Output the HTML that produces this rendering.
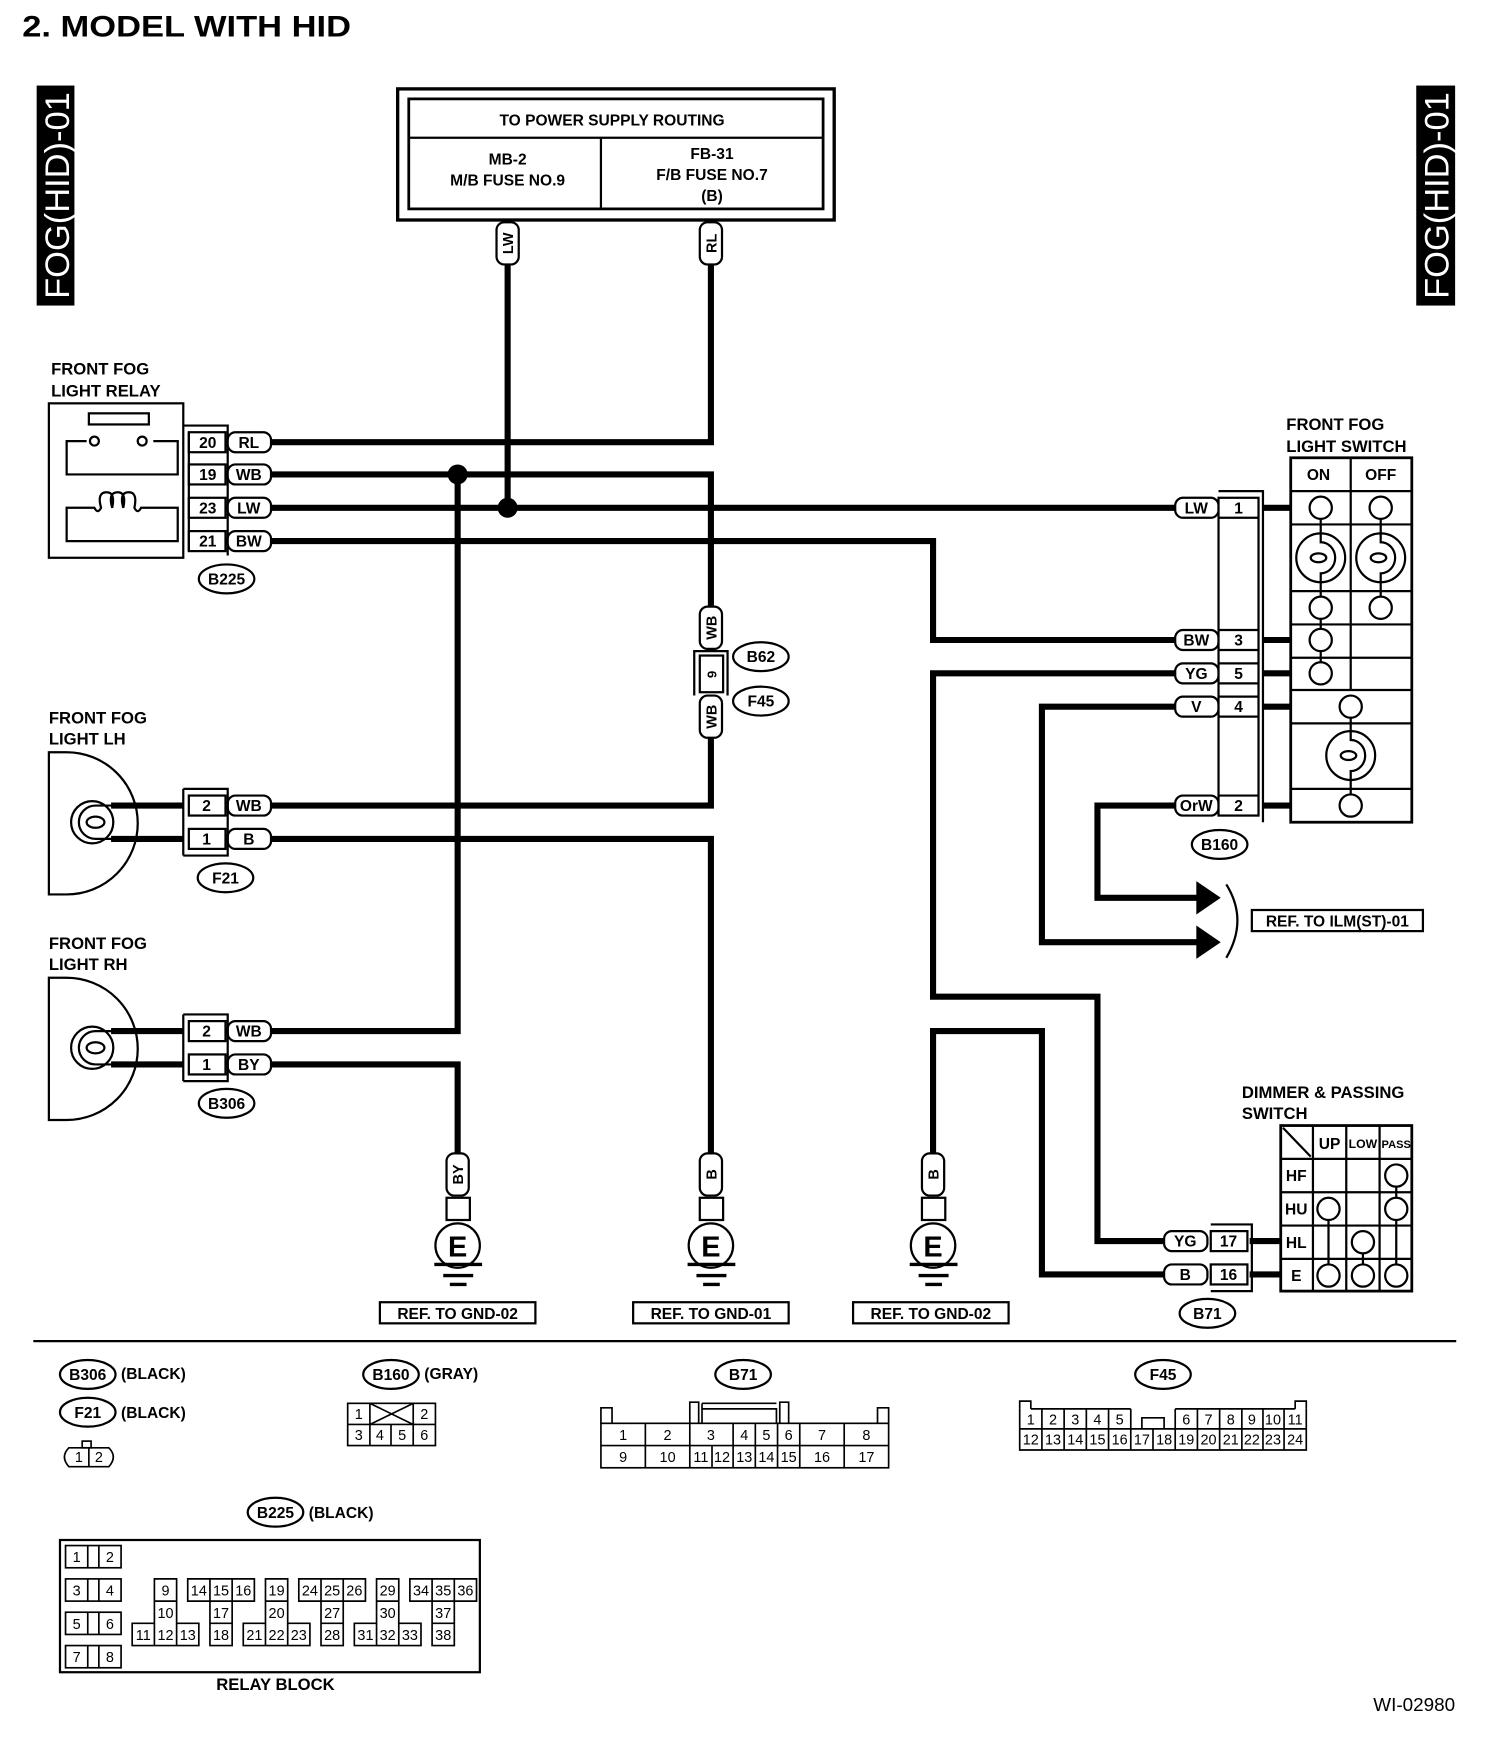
<!DOCTYPE html>
<html><head><meta charset="utf-8"><style>
html,body{margin:0;padding:0;background:#fff;}
svg{display:block;}
text{font-family:"Liberation Sans",Arial,sans-serif;font-weight:bold;fill:#000;}
.n{font-weight:normal;}
</style></head><body>
<svg width="1504" height="1740" viewBox="0 0 1354 1566" preserveAspectRatio="none" xmlns="http://www.w3.org/2000/svg">
<rect width="1354" height="1566" fill="#fff"/>
<text x="20" y="33" font-size="27" textLength="296" lengthAdjust="spacingAndGlyphs">2.  MODEL WITH HID</text>

<!-- side labels -->
<rect x="33" y="77" width="34" height="198" fill="#000"/>
<text transform="translate(62,176) rotate(-90)" font-size="31" text-anchor="middle" textLength="186" lengthAdjust="spacingAndGlyphs" style="fill:#fff;font-weight:normal">FOG(HID)-01</text>
<rect x="1275" y="77" width="35" height="198" fill="#000"/>
<text transform="translate(1304,176) rotate(-90)" font-size="31" text-anchor="middle" textLength="186" lengthAdjust="spacingAndGlyphs" style="fill:#fff;font-weight:normal">FOG(HID)-01</text>

<g fill="none" stroke="#000">
<rect x="358" y="80" width="393" height="118" stroke-width="3"/>
<rect x="368" y="89" width="373" height="99" stroke-width="2.5"/>
<line x1="368" y1="124" x2="741" y2="124" stroke-width="2"/>
<line x1="541" y1="124" x2="541" y2="188" stroke-width="2"/>
</g>
<text x="551" y="113" font-size="14" text-anchor="middle">TO POWER SUPPLY ROUTING</text>
<text x="457" y="148" font-size="14" text-anchor="middle">MB-2</text>
<text x="457" y="167" font-size="14" text-anchor="middle">M/B FUSE NO.9</text>
<text x="641" y="143" font-size="14" text-anchor="middle">FB-31</text>
<text x="641" y="162" font-size="14" text-anchor="middle">F/B FUSE NO.7</text>
<text x="641" y="181" font-size="14" text-anchor="middle">(B)</text>

<!-- WIRES -->
<g fill="none" stroke="#000" stroke-width="5.5">
<polyline points="457,238 457,457"/>
<polyline points="640,238 640,398 243,398"/>
<polyline points="243,427 640,427 640,548"/>
<polyline points="640,662 640,725 243,725"/>
<polyline points="412,427 412,928 243,928"/>
<polyline points="243,457 1060,457"/>
<polyline points="243,487 840,487 840,576 1060,576"/>
<polyline points="1060,606 840,606 840,897 988,897 988,1117 1048,1117"/>
<polyline points="1060,636 938,636 938,848 1080,848"/>
<polyline points="1060,725 988,725 988,808 1080,808"/>
<polyline points="243,755 640,755 640,1040"/>
<polyline points="243,958 412,958 412,1040"/>
<polyline points="840,1040 840,928 938,928 938,1147 1048,1147"/>
<line x1="100" y1="725" x2="165" y2="725"/><line x1="100" y1="755" x2="165" y2="755"/>
<line x1="100" y1="928" x2="165" y2="928"/><line x1="100" y1="958" x2="165" y2="958"/>
<line x1="1137" y1="457" x2="1162" y2="457"/><line x1="1137" y1="576" x2="1162" y2="576"/>
<line x1="1137" y1="606" x2="1162" y2="606"/><line x1="1137" y1="636" x2="1162" y2="636"/>
<line x1="1137" y1="725" x2="1162" y2="725"/>
<line x1="1125" y1="1117" x2="1153" y2="1117"/><line x1="1125" y1="1147" x2="1153" y2="1147"/>
</g>
<circle cx="412" cy="427" r="9" fill="#000"/>
<circle cx="457" cy="457" r="9" fill="#000"/>
<polygon points="1077,793 1099,808 1077,823" fill="#000"/>
<polygon points="1077,833 1099,848 1077,863" fill="#000"/>
<path d="M1104,796 Q1124,828 1104,862" fill="none" stroke="#000" stroke-width="2"/>
<rect x="1127" y="819" width="154" height="19" fill="none" stroke="#000" stroke-width="2"/>
<text x="1204" y="834" font-size="14" text-anchor="middle">REF. TO ILM(ST)-01</text>

<!-- B62/F45 inline connector -->
<g fill="none" stroke="#000" stroke-width="2">
<rect x="630" y="590" width="21" height="33" fill="#fff"/>
<polyline points="625,626 625,586 655,586 655,626"/>
</g>
<g fill="#fff" stroke="#000" stroke-width="2">
<rect x="447" y="200" width="20" height="38" rx="7"/>
<rect x="630" y="200" width="20" height="38" rx="7"/>
<rect x="630" y="546" width="20" height="38" rx="7"/>
<rect x="630" y="626" width="20" height="38" rx="7"/>
<rect x="402" y="1038" width="20" height="38" rx="7"/>
<rect x="630" y="1038" width="20" height="38" rx="7"/>
<rect x="830" y="1038" width="20" height="38" rx="7"/>
</g>
<g font-size="13" text-anchor="middle">
<text transform="translate(462,219) rotate(-90)">LW</text>
<text transform="translate(645,219) rotate(-90)">RL</text>
<text transform="translate(645,565) rotate(-90)">WB</text>
<text transform="translate(645,645) rotate(-90)">WB</text>
<text transform="translate(417,1057) rotate(-90)">BY</text>
<text transform="translate(645,1057) rotate(-90)">B</text>
<text transform="translate(845,1057) rotate(-90)">B</text>
<text transform="translate(645,607) rotate(-90)" font-size="12">9</text>
</g>

<!-- grounds -->
<g fill="none" stroke="#000" stroke-width="2">
<g id="g1">
<rect x="402" y="1078" width="21" height="20" fill="#fff"/>
<circle cx="412" cy="1121" r="20" fill="#fff"/>
<line x1="391" y1="1138" x2="434" y2="1138" stroke-width="3"/>
<line x1="399" y1="1148" x2="426" y2="1148" stroke-width="3"/>
<line x1="405" y1="1156" x2="420" y2="1156" stroke-width="3"/>
</g>
<use href="#g1" x="228"/>
<use href="#g1" x="428"/>
<rect x="342" y="1172" width="140" height="19"/>
<rect x="570" y="1172" width="140" height="19"/>
<rect x="768" y="1172" width="140" height="19"/>
</g>
<g font-size="26" text-anchor="middle"><text x="412" y="1131">E</text><text x="640" y="1131">E</text><text x="840" y="1131">E</text></g>
<g font-size="14" text-anchor="middle">
<text x="412" y="1187">REF. TO GND-02</text>
<text x="640" y="1187">REF. TO GND-01</text>
<text x="838" y="1187">REF. TO GND-02</text>
</g>

<!-- RELAY -->
<text x="46" y="337" font-size="15">FRONT FOG</text>
<text x="46" y="357" font-size="15">LIGHT RELAY</text>
<g fill="none" stroke="#000" stroke-width="2">
<rect x="44" y="363" width="121" height="139"/>
<rect x="80" y="372" width="54" height="10"/>
<polyline points="78,397 60,397 60,427 160,427 160,397 138,397"/>
<circle cx="85" cy="397" r="4"/><circle cx="128" cy="397" r="4"/>
<path d="M60,457 L85,457 q3,6 6,0 q-4,-14 5,-14 q8,0 5,14 q-4,-14 5,-14 q8,0 5,14 q-4,-14 5,-14 q8,0 5,14 q3,6 6,0 L160,457 L160,487 L60,487 Z"/>
<polyline points="165,383 205,383 205,500"/>
<g fill="#fff">
<rect x="170" y="389" width="33" height="18"/>
<rect x="170" y="418" width="33" height="18"/>
<rect x="170" y="448" width="33" height="18"/>
<rect x="170" y="478" width="33" height="18"/>
</g>
<line x1="170" y1="389" x2="170" y2="496"/>
</g>
<g font-size="14" text-anchor="middle">
<text x="187" y="403">20</text><text x="187" y="432">19</text><text x="187" y="462">23</text><text x="187" y="492">21</text>
</g>

<g fill="#fff" stroke="#000" stroke-width="2">
<rect x="205" y="389" width="39" height="18" rx="7"/>
<rect x="205" y="418" width="39" height="18" rx="7"/>
<rect x="205" y="448" width="39" height="18" rx="7"/>
<rect x="205" y="478" width="39" height="18" rx="7"/>
<rect x="205" y="716" width="39" height="18" rx="7"/>
<rect x="205" y="746" width="39" height="18" rx="7"/>
<rect x="205" y="919" width="39" height="18" rx="7"/>
<rect x="205" y="949" width="39" height="18" rx="7"/>
<rect x="1058" y="448" width="39" height="18" rx="7"/>
<rect x="1058" y="567" width="39" height="18" rx="7"/>
<rect x="1058" y="597" width="39" height="18" rx="7"/>
<rect x="1058" y="627" width="39" height="18" rx="7"/>
<rect x="1058" y="716" width="39" height="18" rx="7"/>
<rect x="1048" y="1108" width="39" height="18" rx="7"/>
<rect x="1048" y="1138" width="39" height="18" rx="7"/>
</g>
<g font-size="14" text-anchor="middle">
<text x="224" y="403">RL</text><text x="224" y="432">WB</text><text x="224" y="462">LW</text><text x="224" y="492">BW</text>
<text x="224" y="730">WB</text><text x="224" y="760">B</text>
<text x="224" y="933">WB</text><text x="224" y="963">BY</text>
<text x="1077" y="462">LW</text><text x="1077" y="581">BW</text><text x="1077" y="611">YG</text><text x="1077" y="641">V</text><text x="1077" y="730">OrW</text>
<text x="1067" y="1122">YG</text><text x="1067" y="1152">B</text>
</g>

<g fill="#fff" stroke="#000" stroke-width="2">
<ellipse cx="204" cy="521" rx="25" ry="13"/>
<ellipse cx="685" cy="591" rx="25" ry="13"/>
<ellipse cx="685" cy="631" rx="25" ry="13"/>
<ellipse cx="203" cy="790" rx="25" ry="13"/>
<ellipse cx="204" cy="993" rx="25" ry="13"/>
<ellipse cx="1098" cy="760" rx="25" ry="13"/>
<ellipse cx="1087" cy="1182" rx="25" ry="13"/>
<ellipse cx="79" cy="1237" rx="25" ry="13"/>
<ellipse cx="79" cy="1271" rx="25" ry="13"/>
<ellipse cx="352" cy="1237" rx="25" ry="13"/>
<ellipse cx="669" cy="1237" rx="25" ry="13"/>
<ellipse cx="1047" cy="1237" rx="25" ry="13"/>
<ellipse cx="248" cy="1361" rx="25" ry="13"/>
</g>
<g font-size="14" text-anchor="middle">
<text x="204" y="526">B225</text><text x="685" y="596">B62</text><text x="685" y="636">F45</text>
<text x="203" y="795">F21</text><text x="204" y="998">B306</text><text x="1098" y="765">B160</text>
<text x="1087" y="1187">B71</text><text x="79" y="1242">B306</text><text x="79" y="1276">F21</text>
<text x="352" y="1242">B160</text><text x="669" y="1242">B71</text><text x="1047" y="1242">F45</text><text x="248" y="1366">B225</text>
</g>
<g font-size="14">
<text x="109" y="1241">(BLACK)</text><text x="109" y="1276">(BLACK)</text>
<text x="382" y="1241">(GRAY)</text><text x="278" y="1366">(BLACK)</text>
</g>

<!-- FOG LIGHTS -->
<text x="44" y="651" font-size="15">FRONT FOG</text>
<text x="44" y="670" font-size="15">LIGHT LH</text>
<text x="44" y="854" font-size="15">FRONT FOG</text>
<text x="44" y="873" font-size="15">LIGHT RH</text>
<g id="lamp" fill="none" stroke="#000" stroke-width="2">
<path d="M44,677 L60,677 A64,64 0 0 1 60,805 L44,805 Z"/>
<circle cx="83" cy="740" r="19"/>
<path d="M86,725 L110,725 M86,755 L110,755 M86,725 A15,15 0 0 0 86,755"/>
<ellipse cx="86" cy="740" rx="8" ry="5"/>
<polyline points="165,710 205,710 205,770 165,770"/>
<rect x="170" y="716" width="33" height="18" fill="#fff"/>
<rect x="170" y="746" width="33" height="18" fill="#fff"/>
<line x1="165" y1="710" x2="165" y2="770"/>
</g>
<use href="#lamp" y="203"/>
<g font-size="14" text-anchor="middle">
<text x="186" y="730">2</text><text x="186" y="760">1</text>
<text x="186" y="933">2</text><text x="186" y="963">1</text>
</g>

<!-- FOG SWITCH -->
<text x="1158" y="387" font-size="15">FRONT FOG</text>
<text x="1158" y="407" font-size="15">LIGHT SWITCH</text>
<g fill="none" stroke="#000" stroke-width="2">
<polyline points="1097,442 1137,442 1137,740"/>
<rect x="1097" y="448" width="36" height="286" fill="#fff"/>
<line x1="1097" y1="466" x2="1133" y2="466"/>
<line x1="1097" y1="567" x2="1133" y2="567"/><line x1="1097" y1="585" x2="1133" y2="585"/>
<line x1="1097" y1="597" x2="1133" y2="597"/><line x1="1097" y1="615" x2="1133" y2="615"/>
<line x1="1097" y1="627" x2="1133" y2="627"/><line x1="1097" y1="645" x2="1133" y2="645"/>
<line x1="1097" y1="716" x2="1133" y2="716"/>
<rect x="1162" y="412" width="109" height="328" stroke-width="2.5"/>
<line x1="1216" y1="412" x2="1216" y2="621"/>
<line x1="1162" y1="442" x2="1271" y2="442"/>
<line x1="1162" y1="472" x2="1271" y2="472"/>
<line x1="1162" y1="532" x2="1271" y2="532"/>
<line x1="1162" y1="562" x2="1271" y2="562"/>
<line x1="1162" y1="592" x2="1271" y2="592"/>
<line x1="1162" y1="621" x2="1271" y2="621"/>
<line x1="1162" y1="651" x2="1271" y2="651"/>
<line x1="1162" y1="710" x2="1271" y2="710"/>
<line x1="1189" y1="457" x2="1189" y2="606"/>
<line x1="1243" y1="457" x2="1243" y2="547"/>
<line x1="1216" y1="636" x2="1216" y2="725"/>
<g fill="#fff">
<circle cx="1189" cy="457" r="10"/><circle cx="1189" cy="502" r="22"/><circle cx="1189" cy="547" r="10"/><circle cx="1189" cy="576" r="10"/><circle cx="1189" cy="606" r="10"/>
<circle cx="1243" cy="457" r="10"/><circle cx="1243" cy="502" r="22"/><circle cx="1243" cy="547" r="10"/>
<circle cx="1216" cy="636" r="10"/><circle cx="1216" cy="680" r="22"/><circle cx="1216" cy="725" r="10"/>
</g>
<path d="M1189,480 L1189,488 A13,14 0 0 1 1189,516 L1189,524 M1243,480 L1243,488 A13,14 0 0 1 1243,516 L1243,524 M1216,658 L1216,666 A13,14 0 0 1 1216,694 L1216,702"/>
<ellipse cx="1187" cy="502" rx="7" ry="4"/><ellipse cx="1241" cy="502" rx="7" ry="4"/><ellipse cx="1214" cy="680" rx="7" ry="4"/>
</g>
<g font-size="14" text-anchor="middle">
<text x="1187" y="432">ON</text><text x="1243" y="432">OFF</text>
<text x="1115" y="462">1</text><text x="1115" y="581">3</text><text x="1115" y="611">5</text><text x="1115" y="641">4</text><text x="1115" y="730">2</text>
</g>

<!-- DIMMER -->
<text x="1118" y="988" font-size="15">DIMMER &amp; PASSING</text>
<text x="1118" y="1007" font-size="15">SWITCH</text>
<g fill="none" stroke="#000" stroke-width="2">
<polyline points="1090,1102 1127,1102 1127,1162 1090,1162"/>
<rect x="1090" y="1108" width="33" height="18" fill="#fff"/>
<rect x="1090" y="1138" width="33" height="18" fill="#fff"/>
<rect x="1153" y="1013" width="118" height="149" stroke-width="2.5"/>
<line x1="1182" y1="1013" x2="1182" y2="1162"/><line x1="1212" y1="1013" x2="1212" y2="1162"/><line x1="1242" y1="1013" x2="1242" y2="1162"/>
<line x1="1153" y1="1043" x2="1271" y2="1043"/><line x1="1153" y1="1073" x2="1271" y2="1073"/><line x1="1153" y1="1103" x2="1271" y2="1103"/><line x1="1153" y1="1133" x2="1271" y2="1133"/>
<line x1="1155" y1="1015" x2="1180" y2="1041"/>
<line x1="1196" y1="1088" x2="1196" y2="1148"/>
<line x1="1227" y1="1118" x2="1227" y2="1148"/>
<line x1="1257" y1="1058" x2="1257" y2="1148"/>
<g fill="#fff">
<circle cx="1257" cy="1058" r="10"/><circle cx="1196" cy="1088" r="10"/><circle cx="1257" cy="1088" r="10"/>
<circle cx="1227" cy="1118" r="10"/><circle cx="1196" cy="1148" r="10"/><circle cx="1227" cy="1148" r="10"/><circle cx="1257" cy="1148" r="10"/>
</g>
</g>
<g font-size="14" text-anchor="middle">
<text x="1106" y="1122">17</text><text x="1106" y="1152">16</text>
<text x="1197" y="1034">UP</text><text x="1227" y="1033" font-size="11">LOW</text><text x="1257" y="1033" font-size="10">PASS</text>
<text x="1167" y="1063">HF</text><text x="1167" y="1093">HU</text><text x="1167" y="1123">HL</text><text x="1167" y="1153">E</text>
</g>

<line x1="30" y1="1207" x2="1311" y2="1207" stroke="#000" stroke-width="2"/>

<!-- legends -->
<g fill="none" stroke="#000" stroke-width="1.5">
<rect x="74" y="1297" width="8" height="6"/>
<path d="M62,1303 L98,1303 Q106,1311 98,1320 L62,1320 Q54,1311 62,1303 Z"/>
<line x1="80" y1="1303" x2="80" y2="1320"/>
<rect x="313" y="1263" width="79" height="38"/>
<line x1="313" y1="1282" x2="392" y2="1282"/>
<line x1="333" y1="1263" x2="333" y2="1301"/><line x1="372" y1="1263" x2="372" y2="1301"/><line x1="352" y1="1282" x2="352" y2="1301"/>
<line x1="333" y1="1263" x2="372" y2="1282"/><line x1="333" y1="1282" x2="372" y2="1263"/>
<path d="M541,1281 L541,1267 L551,1267 L551,1281 M621,1281 L621,1262 L629,1262 L629,1281 M632,1263 L699,1263 M632,1268 L699,1268 L699,1281 M632,1263 L632,1281 M702,1281 L702,1262 L710,1262 L710,1281 M790,1281 L790,1267 L800,1267 L800,1281"/>
<rect x="541" y="1281" width="259" height="40"/>
<line x1="541" y1="1301" x2="800" y2="1301"/>
<line x1="581" y1="1281" x2="581" y2="1321"/><line x1="621" y1="1281" x2="621" y2="1321"/><line x1="660" y1="1281" x2="660" y2="1321"/>
<line x1="680" y1="1281" x2="680" y2="1321"/><line x1="700" y1="1281" x2="700" y2="1321"/><line x1="720" y1="1281" x2="720" y2="1321"/><line x1="760" y1="1281" x2="760" y2="1321"/>
<line x1="641" y1="1301" x2="641" y2="1321"/>
<path d="M918,1268 L918,1261 L928,1261 L928,1268 M1166,1268 L1166,1261 L1176,1261 L1176,1268 M928,1268 L1018,1268 M1058,1268 L1166,1268 M1028,1286 L1028,1276 L1048,1276 L1048,1286"/>
<path d="M918,1268 L918,1305 L1176,1305 L1176,1268 M1018,1268 L1018,1286 M1058,1268 L1058,1286 M918,1286 L1176,1286"/>
<line x1="938" y1="1268" x2="938" y2="1305"/><line x1="958" y1="1268" x2="958" y2="1305"/><line x1="978" y1="1268" x2="978" y2="1305"/><line x1="998" y1="1268" x2="998" y2="1305"/>
<line x1="1078" y1="1268" x2="1078" y2="1305"/><line x1="1098" y1="1268" x2="1098" y2="1305"/><line x1="1118" y1="1268" x2="1118" y2="1305"/><line x1="1137" y1="1268" x2="1137" y2="1305"/><line x1="1156" y1="1268" x2="1156" y2="1305"/>
<line x1="1018" y1="1286" x2="1018" y2="1305"/><line x1="1038" y1="1286" x2="1038" y2="1305"/><line x1="1058" y1="1286" x2="1058" y2="1305"/>
<rect x="54" y="1386" width="378" height="119" stroke-width="2"/>
<rect x="59" y="1391" width="50" height="20"/><rect x="59" y="1421" width="50" height="20"/><rect x="59" y="1451" width="50" height="20"/><rect x="59" y="1481" width="50" height="20"/>
<path d="M79,1391 v20 M89,1391 v20 M79,1421 v20 M89,1421 v20 M79,1451 v20 M89,1451 v20 M79,1481 v20 M89,1481 v20"/>
<path d="M139,1421 h20 v60 h-40 v-20 h20 Z M159,1461 h20 v20 h-20 M139,1441 h20 M139,1461 v20"/>
<path d="M169,1421 h60 v20 h-60 Z M189,1421 v60 h20 v-60 M209,1421 v20 M189,1461 h20"/>
<path d="M239,1421 h20 v60 h-40 v-20 h20 Z M259,1461 h20 v20 h-20 M239,1441 h20 M239,1461 v20"/>
<path d="M269,1421 h60 v20 h-60 Z M289,1421 v60 h20 v-60 M309,1421 v20 M289,1461 h20"/>
<path d="M339,1421 h20 v60 h-40 v-20 h20 Z M359,1461 h20 v20 h-20 M339,1441 h20 M339,1461 v20"/>
<path d="M369,1421 h60 v20 h-60 Z M389,1421 v60 h20 v-60 M409,1421 v20 M389,1461 h20"/>
</g>
<g font-size="13" text-anchor="middle">
<text x="71" y="1316" class="n">1</text><text x="89" y="1316" class="n">2</text>
<text x="323" y="1277" class="n">1</text><text x="382" y="1277" class="n">2</text>
<text x="323" y="1296" class="n">3</text><text x="342" y="1296" class="n">4</text><text x="362" y="1296" class="n">5</text><text x="382" y="1296" class="n">6</text>
<text x="561" y="1296" class="n">1</text><text x="601" y="1296" class="n">2</text><text x="640" y="1296" class="n">3</text><text x="670" y="1296" class="n">4</text><text x="690" y="1296" class="n">5</text><text x="710" y="1296" class="n">6</text><text x="740" y="1296" class="n">7</text><text x="780" y="1296" class="n">8</text>
<text x="561" y="1316" class="n">9</text><text x="601" y="1316" class="n">10</text><text x="631" y="1316" class="n">11</text><text x="650" y="1316" class="n">12</text><text x="670" y="1316" class="n">13</text><text x="690" y="1316" class="n">14</text><text x="710" y="1316" class="n">15</text><text x="740" y="1316" class="n">16</text><text x="780" y="1316" class="n">17</text>
<text x="928" y="1282" class="n">1</text><text x="948" y="1282" class="n">2</text><text x="968" y="1282" class="n">3</text><text x="988" y="1282" class="n">4</text><text x="1008" y="1282" class="n">5</text>
<text x="1068" y="1282" class="n">6</text><text x="1088" y="1282" class="n">7</text><text x="1108" y="1282" class="n">8</text><text x="1127" y="1282" class="n">9</text><text x="1146" y="1282" class="n">10</text><text x="1166" y="1282" class="n">11</text>
<text x="928" y="1300" class="n">12</text><text x="948" y="1300" class="n">13</text><text x="968" y="1300" class="n">14</text><text x="988" y="1300" class="n">15</text><text x="1008" y="1300" class="n">16</text><text x="1028" y="1300" class="n">17</text><text x="1048" y="1300" class="n">18</text><text x="1068" y="1300" class="n">19</text><text x="1088" y="1300" class="n">20</text><text x="1108" y="1300" class="n">21</text><text x="1127" y="1300" class="n">22</text><text x="1146" y="1300" class="n">23</text><text x="1166" y="1300" class="n">24</text>
<text x="69" y="1406" class="n">1</text><text x="99" y="1406" class="n">2</text><text x="69" y="1436" class="n">3</text><text x="99" y="1436" class="n">4</text>
<text x="69" y="1466" class="n">5</text><text x="99" y="1466" class="n">6</text><text x="69" y="1496" class="n">7</text><text x="99" y="1496" class="n">8</text>
<text x="149" y="1436" class="n">9</text><text x="149" y="1456" class="n">10</text><text x="129" y="1476" class="n">11</text><text x="149" y="1476" class="n">12</text><text x="169" y="1476" class="n">13</text>
<text x="179" y="1436" class="n">14</text><text x="199" y="1436" class="n">15</text><text x="219" y="1436" class="n">16</text><text x="199" y="1456" class="n">17</text><text x="199" y="1476" class="n">18</text>
<text x="249" y="1436" class="n">19</text><text x="249" y="1456" class="n">20</text><text x="229" y="1476" class="n">21</text><text x="249" y="1476" class="n">22</text><text x="269" y="1476" class="n">23</text>
<text x="279" y="1436" class="n">24</text><text x="299" y="1436" class="n">25</text><text x="319" y="1436" class="n">26</text><text x="299" y="1456" class="n">27</text><text x="299" y="1476" class="n">28</text>
<text x="349" y="1436" class="n">29</text><text x="349" y="1456" class="n">30</text><text x="329" y="1476" class="n">31</text><text x="349" y="1476" class="n">32</text><text x="369" y="1476" class="n">33</text>
<text x="379" y="1436" class="n">34</text><text x="399" y="1436" class="n">35</text><text x="419" y="1436" class="n">36</text><text x="399" y="1456" class="n">37</text><text x="399" y="1476" class="n">38</text>
</g>
<text x="248" y="1521" font-size="15" text-anchor="middle">RELAY BLOCK</text>
<text x="1310" y="1540" font-size="17" text-anchor="end" class="n">WI-02980</text>
</svg>
</body></html>
